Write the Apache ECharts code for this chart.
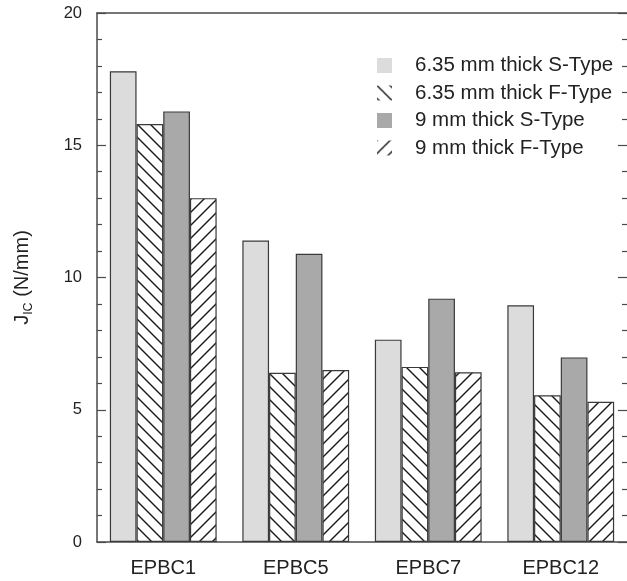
<!DOCTYPE html>
<html>
<head>
    <meta charset="utf-8">
    <style>
        html, body {
            margin: 0;
            padding: 0;
            background: #fff;
        }

        #chart {
            width: 627px;
            height: 581px;
        }
    </style>
</head>
<body>
    <div id="chart"></div>
    <script src="https://cdn.jsdelivr.net/npm/echarts@6/dist/echarts.min.js"></script>
    <script>
        var categories = ['EPBC1', 'EPBC5', 'EPBC7', 'EPBC12'];
        var seriesNames = ['6.35 mm thick S-Type', '6.35 mm thick F-Type', '9 mm thick S-Type', '9 mm thick F-Type'];
        var s635 = [17.8, 11.4, 7.65, 8.95];
        var f635 = [15.8, 6.4, 6.62, 5.55];
        var s9 = [16.28, 10.9, 9.2, 6.98];
        var f9 = [13.0, 6.5, 6.42, 5.3];
        var yTicks = [0, 5, 10, 15, 20];

        // diagonal hatch, dir 1 = "\" , dir -1 = "/"
        function hatch(dir) {
            var s = 13;
            var c = document.createElement('canvas');
            c.width = s;
            c.height = s;
            var ctx = c.getContext('2d');
            ctx.fillStyle = '#fff';
            ctx.fillRect(0, 0, s, s);
            ctx.strokeStyle = '#1a1a1a';
            ctx.lineWidth = 1.4;
            for (var k = -1; k <= 1; k++) {
                ctx.beginPath();
                if (dir > 0) {
                    ctx.moveTo(k * s - 1, -1);
                    ctx.lineTo(k * s + s + 1, s + 1);
                } else {
                    ctx.moveTo(k * s - 1, s + 1);
                    ctx.lineTo(k * s + s + 1, -1);
                }
                ctx.stroke();
            }
            return { image: c, repeat: 'repeat' };
        }

        var fills = ['#dcdcdc', hatch(1), '#a9a9a9', hatch(-1)];
        var values = [s635, f635, s9, f9];

        var axisColor = '#4a4a4a';
        var textColor = '#222';
        var font = 'Liberation Sans, Arial, sans-serif';

        function yAxisDef(pos, withLabels) {
            return {
                type: 'value',
                position: pos,
                min: yTicks[0],
                max: yTicks[yTicks.length - 1],
                interval: yTicks[1] - yTicks[0],
                axisLine: { show: pos === 'left', lineStyle: { color: axisColor, width: 1.5 } },
                axisTick: { show: true, inside: true, length: 9, lineStyle: { color: axisColor, width: 1.2 } },
                minorTick: { show: true, splitNumber: 5, length: 5, lineStyle: { color: axisColor, width: 1.2 } },
                splitLine: { show: false },
                axisLabel: {
                    show: withLabels,
                    fontSize: 16.5,
                    color: textColor,
                    fontFamily: font,
                    margin: 15
                }
            };
        }

        var left = yAxisDef('left', true);
        left.name = '{a|J}{s|IC}{a| (N/mm)}';
        left.nameLocation = 'middle';
        left.nameRotate = 90;
        left.nameGap = 62;
        left.nameTextStyle = {
            rich: {
                a: { fontSize: 20, lineHeight: 26, color: textColor, fontFamily: font },
                s: { fontSize: 12.5, lineHeight: 12, verticalAlign: 'bottom', color: textColor, fontFamily: font }
            }
        };

        var myChart = echarts.init(document.getElementById('chart'));
        var option = {
            animation: false,
            backgroundColor: '#fff',
            grid: {
                left: 97,
                right: -2,
                top: 13,
                bottom: 39,
                show: false
            },
            legend: {
                orient: 'vertical',
                left: 372,
                top: 50,
                itemWidth: 15,
                itemHeight: 15,
                itemGap: 6.5,
                icon: 'rect',
                itemStyle: { borderWidth: 0 },
                textStyle: {
                    fontSize: 20.5,
                    color: textColor,
                    fontFamily: font,
                    padding: [0, 0, 0, 18]
                },
                data: seriesNames
            },
            xAxis: [{
                type: 'category',
                data: categories,
                axisLine: { show: true, onZero: false, lineStyle: { color: axisColor, width: 1.5 } },
                axisTick: { show: false },
                axisLabel: { fontSize: 20, color: textColor, fontFamily: font, margin: 16 }
            }, {
                type: 'category',
                position: 'top',
                data: categories,
                axisLine: { show: true, onZero: false, lineStyle: { color: axisColor, width: 1.5 } },
                axisTick: { show: false },
                axisLabel: { show: false }
            }],
            yAxis: [left, yAxisDef('right', false)],
            series: seriesNames.map(function (name, i) {
                return {
                    name: name,
                    type: 'bar',
                    data: values[i],
                    barGap: '0%',
                    barCategoryGap: '19.4%',
                    itemStyle: {
                        color: fills[i],
                        borderColor: '#3a3a3a',
                        borderWidth: 1.2
                    }
                };
            })
        };
        myChart.setOption(option);
    </script>
</body>
</html>
